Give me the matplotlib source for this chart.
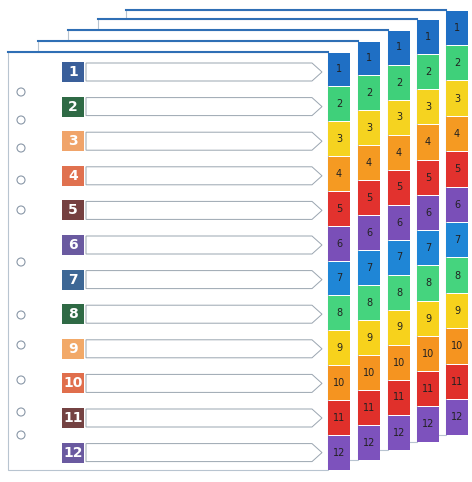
import matplotlib
matplotlib.use("Agg")
import matplotlib.pyplot as plt
from matplotlib.patches import Rectangle, Polygon, Circle

numbers = [str(i) for i in range(1, 13)]
tab_colors = ["#1f6fc4", "#3fd07a", "#f5d320", "#f59a22", "#e2322e", "#7a4fb8",
              "#1f86d6", "#45d47e", "#f7d21c", "#f59420", "#e0302b", "#7d52bd"]
index_colors = ["#3a5f9a", "#2f6a45", "#f0a46a", "#e0714f", "#754040", "#6a5aa0",
                "#3d6795", "#2f6a45", "#f2a968", "#e06e4c", "#744242", "#6a5aa0"]
sheet_tops = [52, 41, 30, 19, 10, 3]
sheet_bottoms = [470, 460, 450, 442, 435, 424]
sheet_left = [8, 38, 68, 98, 126, 156]
tab_x = [328, 358, 388, 417, 446]

fig = plt.figure(figsize=(4.72, 4.82), dpi=100)
ax = fig.add_axes([0, 0, 1, 1])
ax.set_xlim(0, 472); ax.set_ylim(482, 0); ax.axis("off")

for i in reversed(range(5)):
    top, bot, left, tx = sheet_tops[i], sheet_bottoms[i], sheet_left[i], tab_x[i]
    ax.add_patch(Rectangle((left, top), tx - left, bot - top, facecolor="white",
                           edgecolor="#b8c4d0", lw=0.8, zorder=i * -10))
    ax.plot([left, tx], [top, top], color="#2f6fb5", lw=1.5, zorder=i * -10 + 1)
    h = (bot - top) / 12
    for k in range(12):
        y = top + k * h
        ax.add_patch(Rectangle((tx, y + 0.5), 22, h - 1, facecolor=tab_colors[k],
                               edgecolor="none", zorder=i * -10 + 2))
        ax.text(tx + 11, y + h / 2, numbers[k], ha="center", va="center",
                fontsize=7, color="#222", zorder=i * -10 + 3)

# front sheet index
top, bot = sheet_tops[0], sheet_bottoms[0]
h = (bot - top) / 12
for k in range(12):
    yc = top + 20 + k * 34.6
    ax.add_patch(Rectangle((62, yc - 10), 22, 20, facecolor=index_colors[k], zorder=5))
    ax.text(73, yc, numbers[k], ha="center", va="center", fontsize=10,
            fontweight="bold", color="white", zorder=6)
    ax.add_patch(Polygon([(86, yc - 9), (312, yc - 9), (322, yc), (312, yc + 9), (86, yc + 9)],
                         closed=True, facecolor="white", edgecolor="#9aa5b0", lw=0.7, zorder=5))
holes = [92, 120, 148, 180, 210, 262, 315, 345, 380, 412, 435]
for yy in holes:
    ax.add_patch(Circle((21, yy), 4, facecolor="white", edgecolor="#8a98a8", lw=0.8, zorder=5))

fig.savefig("out.png", dpi=100)
